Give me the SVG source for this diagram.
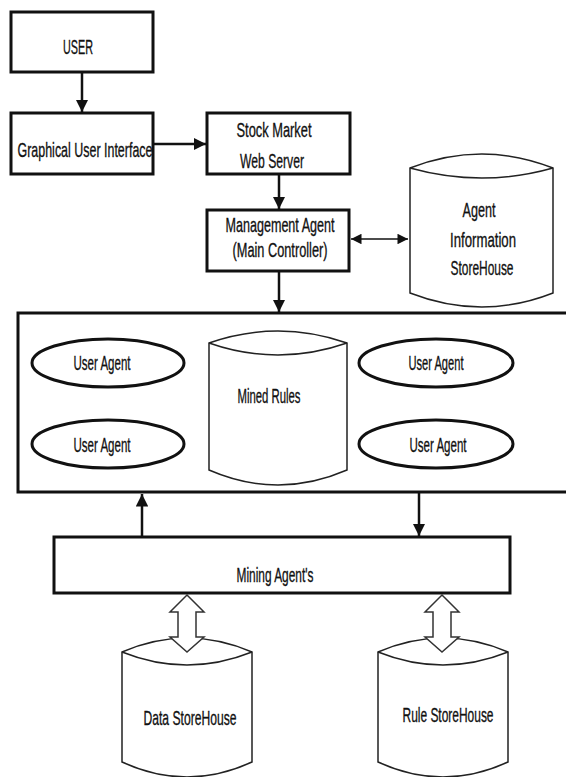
<svg xmlns="http://www.w3.org/2000/svg" width="566" height="777" viewBox="0 0 566 777">
<style>
text{font-family:"Liberation Sans Narrow","Liberation Sans",Arial,sans-serif;font-size:21px;fill:#111;stroke:#111;stroke-width:0.35;text-anchor:middle}
.box{fill:#fff;stroke:#111;stroke-width:3}
.cyl{fill:#fff;stroke:#222;stroke-width:1.5}
.ell{fill:#fff;stroke:#111;stroke-width:3}
.con{fill:none;stroke:#111;stroke-width:2.5}
.thin{fill:none;stroke:#111;stroke-width:1.5}
.hollow{fill:#fff;stroke:#333;stroke-width:1.5}
</style>
<defs>
<marker id="ah" viewBox="0 0 10 10" refX="10" refY="5" markerWidth="5" markerHeight="5" markerUnits="strokeWidth" orient="auto-start-reverse">
<path d="M0,0L10,5L0,10Z" fill="#111"/>
</marker>
<marker id="ah2" viewBox="0 0 10 10" refX="10" refY="5" markerWidth="9" markerHeight="7" markerUnits="strokeWidth" orient="auto-start-reverse">
<path d="M0,0L10,5L0,10Z" fill="#111"/>
</marker>
</defs>
<rect width="566" height="777" fill="#fff"/>

<g id="user"><rect class="box" x="11" y="12" width="142" height="60"/><text x="78" y="54" textLength="30" lengthAdjust="spacingAndGlyphs">USER</text></g>
<g id="gui"><rect class="box" x="11" y="113" width="142" height="61"/><text x="85" y="157" textLength="135" lengthAdjust="spacingAndGlyphs">Graphical User Interface</text></g>
<g id="webserver"><rect class="box" x="207" y="113" width="143" height="61"/><text x="274" y="137" textLength="75" lengthAdjust="spacingAndGlyphs">Stock Market</text><text x="272" y="168" textLength="64" lengthAdjust="spacingAndGlyphs">Web Server</text></g>
<g id="management"><rect class="box" x="207" y="210" width="142" height="61"/><text x="280" y="232" textLength="109" lengthAdjust="spacingAndGlyphs">Management Agent</text><text x="280" y="257" textLength="95" lengthAdjust="spacingAndGlyphs">(Main Controller)</text></g>
<g id="agentinfo"><path class="cyl" d="M410,168 Q482,140 553,168 L553,293 Q482,321 410,293 Z"/><path class="cyl" d="M410,168 Q482,188 553,168"/><text x="479" y="217" textLength="33" lengthAdjust="spacingAndGlyphs">Agent</text><text x="483" y="247" textLength="66" lengthAdjust="spacingAndGlyphs">Information</text><text x="482" y="275" textLength="63" lengthAdjust="spacingAndGlyphs">StoreHouse</text></g>

<g id="agentpool"><rect class="box" x="18" y="313" width="552" height="179"/></g>
<g id="ua1"><ellipse class="ell" cx="108" cy="363" rx="76" ry="24"/><text x="102" y="370" textLength="57" lengthAdjust="spacingAndGlyphs">User Agent</text></g>
<g id="ua2"><ellipse class="ell" cx="108" cy="444" rx="76" ry="24"/><text x="102" y="452" textLength="57" lengthAdjust="spacingAndGlyphs">User Agent</text></g>
<g id="ua3"><ellipse class="ell" cx="436" cy="363" rx="77" ry="24"/><text x="436" y="370" textLength="55" lengthAdjust="spacingAndGlyphs">User Agent</text></g>
<g id="ua4"><ellipse class="ell" cx="436" cy="444" rx="77" ry="24"/><text x="438" y="452" textLength="57" lengthAdjust="spacingAndGlyphs">User Agent</text></g>
<g id="minedrules"><path class="cyl" d="M209,343 Q278,319 347,343 L347,470 Q278,500 209,470 Z"/><path class="cyl" d="M209,343 Q278,367 347,343"/><text x="269" y="403" textLength="63" lengthAdjust="spacingAndGlyphs">Mined Rules</text></g>

<g id="mining"><rect class="box" x="54" y="537" width="456" height="56"/><text x="275" y="582" textLength="77" lengthAdjust="spacingAndGlyphs">Mining Agent's</text></g>
<g id="datastore"><path class="cyl" d="M122,652 Q187,624 252,652 L252,762 Q187,792 122,762 Z"/><path class="cyl" d="M122,652 Q187,678 252,652"/><text x="190" y="725" textLength="93" lengthAdjust="spacingAndGlyphs">Data StoreHouse</text></g>
<g id="rulestore"><path class="cyl" d="M378,652 Q443,624 508,652 L508,762 Q443,792 378,762 Z"/><path class="cyl" d="M378,652 Q443,678 508,652"/><text x="448" y="722" textLength="91" lengthAdjust="spacingAndGlyphs">Rule StoreHouse</text></g>

<g id="connectors">
<line class="con" x1="82" y1="72" x2="82" y2="112" marker-end="url(#ah)"/>
<line class="con" x1="153" y1="144" x2="206" y2="144" marker-end="url(#ah)"/>
<line class="con" x1="279" y1="174" x2="279" y2="209" marker-end="url(#ah)"/>
<line class="thin" x1="351" y1="239" x2="408" y2="239" marker-start="url(#ah2)" marker-end="url(#ah2)"/>
<line class="con" x1="279" y1="271" x2="279" y2="312" marker-end="url(#ah)"/>
<line class="con" x1="142" y1="537" x2="142" y2="494" marker-end="url(#ah)"/>
<line class="con" x1="419" y1="492" x2="419" y2="536" marker-end="url(#ah)"/>
<polygon class="hollow" points="187,595 204,612 196,612 196,637 204,637 187,652 170,637 178,637 178,612 170,612"/>
<polygon class="hollow" points="442,595 459,612 451,612 451,637 459,637 442,652 425,637 433,637 433,612 425,612"/>
</g>
</svg>
